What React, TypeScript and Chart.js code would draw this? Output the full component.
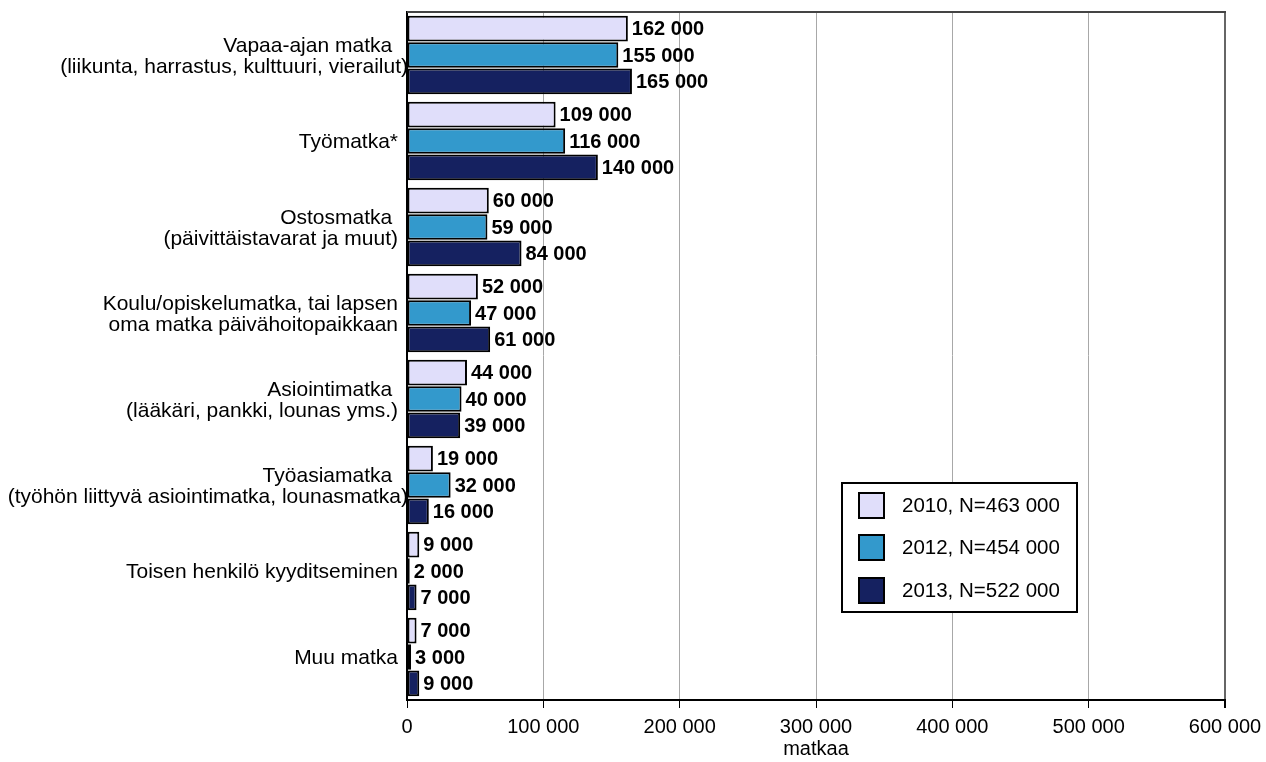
import React, { useEffect, useRef } from "react";
import { Chart, registerables } from "chart.js";

Chart.register(...registerables);

const categories: string[][] = [
  ["Vapaa-ajan matka ", "(liikunta, harrastus, kulttuuri, vierailut)"],
  ["Työmatka*"],
  ["Ostosmatka ", "(päivittäistavarat ja muut)"],
  ["Koulu/opiskelumatka, tai lapsen", "oma matka päivähoitopaikkaan"],
  ["Asiointimatka ", "(lääkäri, pankki, lounas yms.)"],
  ["Työasiamatka ", "(työhön liittyvä asiointimatka, lounasmatka)"],
  ["Toisen henkilö kyyditseminen"],
  ["Muu matka"],
];

const series2010 = [162000, 109000, 60000, 52000, 44000, 19000, 9000, 7000];
const series2012 = [155000, 116000, 59000, 47000, 40000, 32000, 2000, 3000];
const series2013 = [165000, 140000, 84000, 61000, 39000, 16000, 7000, 9000];

const seriesLabels = ["2010, N=463 000", "2012, N=454 000", "2013, N=522 000"];
const seriesColors = ["#E0DEFA", "#3399CC", "#152160"];

const xTicks = [0, 100000, 200000, 300000, 400000, 500000, 600000];
const axisTitle = "matkaa";

const FONT = "'Liberation Sans', Arial, sans-serif";

const fmt = (v: number) =>
  String(Math.round(v)).replace(/\B(?=(\d{3})+(?!\d))/g, " ");

export default function App() {
  const ref = useRef<HTMLCanvasElement>(null);

  useEffect(() => {
    if (!ref.current) return;

    const customPlugin = {
      id: "custom",
      beforeDatasetsDraw(chart: any) {
        const ctx = chart.ctx;
        const area = chart.chartArea;
        const yScale = chart.scales.y;
        ctx.save();
        // y labels (right aligned, long lines run under the axis)
        ctx.font = `21px ${FONT}`;
        ctx.fillStyle = "#000";
        ctx.textAlign = "right";
        ctx.textBaseline = "middle";
        const lh = 21;
        categories.forEach((lines, i) => {
          const cy = yScale.getPixelForValue(i);
          const off = lines.length > 1 ? 2 : 1;
          lines.forEach((l, k) => {
            const w = ctx.measureText(l).width;
            const rx = w > 320 ? area.left + 1 : area.left - 9;
            const y = cy + (k - (lines.length - 1) / 2) * lh + off;
            ctx.fillText(l, rx, y);
          });
        });
        // redraw the axis line over the labels
        ctx.strokeStyle = "#000";
        ctx.lineWidth = 2;
        ctx.beginPath();
        ctx.moveTo(area.left, area.top);
        ctx.lineTo(area.left, area.bottom);
        ctx.stroke();
        ctx.restore();
      },
      afterDatasetsDraw(chart: any) {
        const ctx = chart.ctx;
        ctx.save();
        ctx.font = `bold 20px ${FONT}`;
        ctx.fillStyle = "#000";
        ctx.textAlign = "left";
        ctx.textBaseline = "middle";
        chart.data.datasets.forEach((ds: any, i: number) => {
          const meta = chart.getDatasetMeta(i);
          meta.data.forEach((bar: any, j: number) => {
            ctx.fillText(fmt(ds.data[j]), bar.x + 4, bar.y + 1);
          });
        });
        ctx.restore();
      },
      afterDraw(chart: any) {
        const ctx = chart.ctx;
        const area = chart.chartArea;
        const xScale = chart.scales.x;
        ctx.save();
        // top border
        ctx.strokeStyle = "#444";
        ctx.lineWidth = 2;
        ctx.beginPath();
        ctx.moveTo(area.left, area.top);
        ctx.lineTo(area.right + 1, area.top);
        ctx.stroke();

        ctx.fillStyle = "#000";
        ctx.textBaseline = "middle";
        // x tick labels
        ctx.font = `20px ${FONT}`;
        ctx.textAlign = "center";
        xTicks.forEach((v) => {
          ctx.fillText(fmt(v), xScale.getPixelForValue(v), 727);
        });

        // axis title
        ctx.fillText(axisTitle, (area.left + area.right) / 2, 749);

        // legend
        const lx = 842, ly = 483, lw = 235, lhgt = 129;
        ctx.fillStyle = "#fff";
        ctx.fillRect(lx, ly, lw, lhgt);
        ctx.strokeStyle = "#000";
        ctx.lineWidth = 2;
        ctx.strokeRect(lx, ly, lw, lhgt);
        const rows = [505, 547, 590];
        ctx.textAlign = "left";
        ctx.font = `20.5px ${FONT}`;
        seriesLabels.forEach((lab, i) => {
          const cy = rows[i];
          ctx.fillStyle = seriesColors[i];
          ctx.fillRect(859, cy - 12, 25, 25);
          ctx.strokeStyle = "#000";
          ctx.lineWidth = 2;
          ctx.strokeRect(859, cy - 12, 25, 25);
          ctx.fillStyle = "#000";
          ctx.fillText(lab, 902, cy + 1);
        });
        ctx.restore();
      },
    };

    const mk = (i: number, data: number[]) => ({
      label: seriesLabels[i],
      data,
      backgroundColor: seriesColors[i],
      borderColor: "#000",
      borderWidth: 2,
      borderSkipped: false,
      categoryPercentage: 0.92,
      barPercentage: 0.97,
    });

    const chart = new Chart(ref.current, {
      type: "bar",
      data: {
        labels: categories.map((c) => c.join(" ")),
        datasets: [mk(0, series2010), mk(1, series2012), mk(2, series2013)],
      },
      options: {
        indexAxis: "y",
        responsive: false,
        animation: false,
        devicePixelRatio: 1,
        layout: { padding: { top: 12, right: 41, left: 0, bottom: 0 } },
        plugins: {
          legend: { display: false },
          tooltip: { enabled: false },
          title: { display: false },
        },
        scales: {
          x: {
            type: "linear",
            min: 0,
            max: 600000,
            afterBuildTicks: (scale: any) => {
              scale.ticks = xTicks.map((v) => ({ value: v }));
            },
            afterFit: (scale: any) => {
              scale.height = 62;
              scale.paddingLeft = 0;
              scale.paddingRight = 0;
            },
            ticks: { display: false },
            grid: {
              color: (c: any) =>
                c.tick && c.tick.value === 600000 ? "#666" : "#A8A8A8",
              lineWidth: (c: any) =>
                c.tick && c.tick.value === 600000 ? 2 : 1,
              tickColor: "#000",
              tickLength: 8,
              drawTicks: true,
            },
            border: { display: true, color: "#000", width: 2 },
          },
          y: {
            type: "category",
            afterFit: (scale: any) => {
              scale.width = 407;
            },
            ticks: { display: false },
            grid: { display: false },
            border: { display: true, color: "#000", width: 2 },
          },
        },
      },
      plugins: [customPlugin],
    } as any);

    return () => chart.destroy();
  }, []);

  return (
    <div style={{ position: "fixed", left: 0, top: 0, width: 1266, height: 762, background: "#fff" }}>
      <canvas ref={ref} width={1266} height={762} style={{ display: "block" }} />
    </div>
  );
}
